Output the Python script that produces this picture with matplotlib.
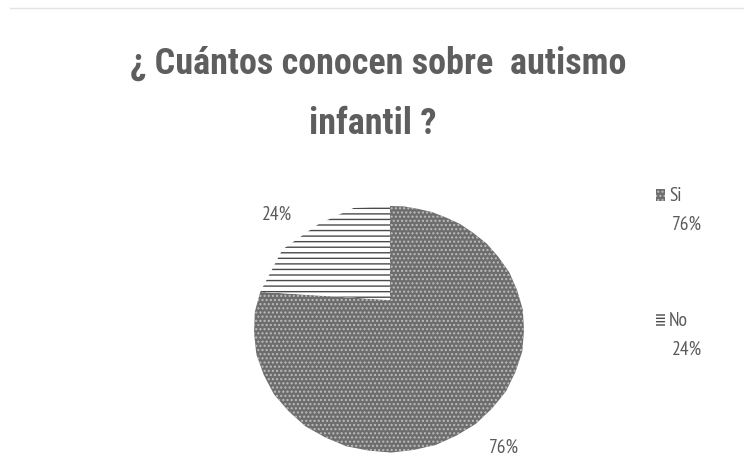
import matplotlib
matplotlib.use("Agg")
import matplotlib.pyplot as plt
import numpy as np
from matplotlib.patches import Polygon, Rectangle
from matplotlib.lines import Line2D

# Survey data
categories = ["Si", "No"]
values = [76, 24]
title_lines = ["¿ Cuántos conocen sobre  autismo", "infantil ?"]

W, H = 744, 456
plt.rcParams["hatch.linewidth"] = 1.0
fig = plt.figure(figsize=(W / 100, H / 100), dpi=100)
fig.patch.set_facecolor("white")

# One axes spanning the figure, in pixel units (y pointing down)
ax = fig.add_axes([0, 0, 1, 1])

TEXT = "#5a5a5a"
TITLE_FONT = ["Roboto Condensed", "DejaVu Sans"]
LABEL_FONT = ["PT Sans Narrow", "DejaVu Sans"]

# Title
ax.text(378, 64, title_lines[0], ha="center", va="center", fontsize=26,
        fontweight="bold", family=TITLE_FONT, color="#5e5e5e")
ax.text(373, 124, title_lines[1], ha="center", va="center", fontsize=26,
        fontweight="bold", family=TITLE_FONT, color="#5e5e5e")

# faint frame line along the top
ax.add_line(Line2D([10, W], [9, 9], color="#e4e4e4", lw=1))

# Pie geometry: apex and the outer ellipse the slices reach
apex = np.array([390.0, 301.0])
ell_c = np.array([389.0, 330.0])
ell_r = np.array([135.0, 123.0])

def to_pixels(pts):
    """Map unit-circle pie coordinates onto the tilted pie outline."""
    x, y = pts[:, 0], pts[:, 1]
    r = np.hypot(x, y)
    th = np.arctan2(y, x)
    d = np.stack([np.cos(th), -np.sin(th)], axis=1)
    p = (apex - ell_c) / ell_r
    q = d / ell_r
    A = (q ** 2).sum(1)
    B = 2 * (p * q).sum(1)
    C = (p ** 2).sum() - 1
    t = (-B + np.sqrt(B ** 2 - 4 * A * C)) / (2 * A)
    return apex + (r * t)[:, None] * d

styles = [
    dict(face="#6d6d6d", hatch="....", hcol="#bdbdbd"),
    dict(face="#ffffff", hatch="---", hcol="#4a4a4a"),
]

wedges, _ = ax.pie(values, startangle=90, counterclock=False, radius=1,
                   center=(0, 0))
for w, st in zip(wedges, styles):
    poly = w.get_path().to_polygons(closed_only=False)[0]
    w.remove()
    ax.add_patch(Polygon(to_pixels(poly), closed=True, facecolor=st["face"],
                         edgecolor=st["hcol"], hatch=st["hatch"], lw=0))

# Percent labels near the slices
pct = [f"{v}%" for v in values]
ax.text(504, 448, pct[0], ha="center", va="center", fontsize=14,
        family=LABEL_FONT, color=TEXT)
ax.text(277, 215, pct[1], ha="center", va="center", fontsize=14,
        family=LABEL_FONT, color=TEXT)

# Legend
leg_y = [196, 321]
for cat, v, st, y in zip(categories, values, styles, leg_y):
    ax.add_patch(Rectangle((656, y - 6), 9, 12, facecolor=st["face"],
                           edgecolor=st["hcol"],
                           hatch=st["hatch"] + ("--" if cat == "No" else ""),
                           lw=0))
    ax.text(669, y, cat, ha="left", va="center", fontsize=14,
            family=LABEL_FONT, color=TEXT)
    ax.text(672, y + 29, f"{v}%", ha="left", va="center", fontsize=14,
            family=LABEL_FONT, color=TEXT)

ax.set_xlim(0, W)
ax.set_ylim(H, 0)
ax.set_aspect("auto")
ax.axis("off")

fig.savefig("out.png", dpi=100, facecolor="white")
